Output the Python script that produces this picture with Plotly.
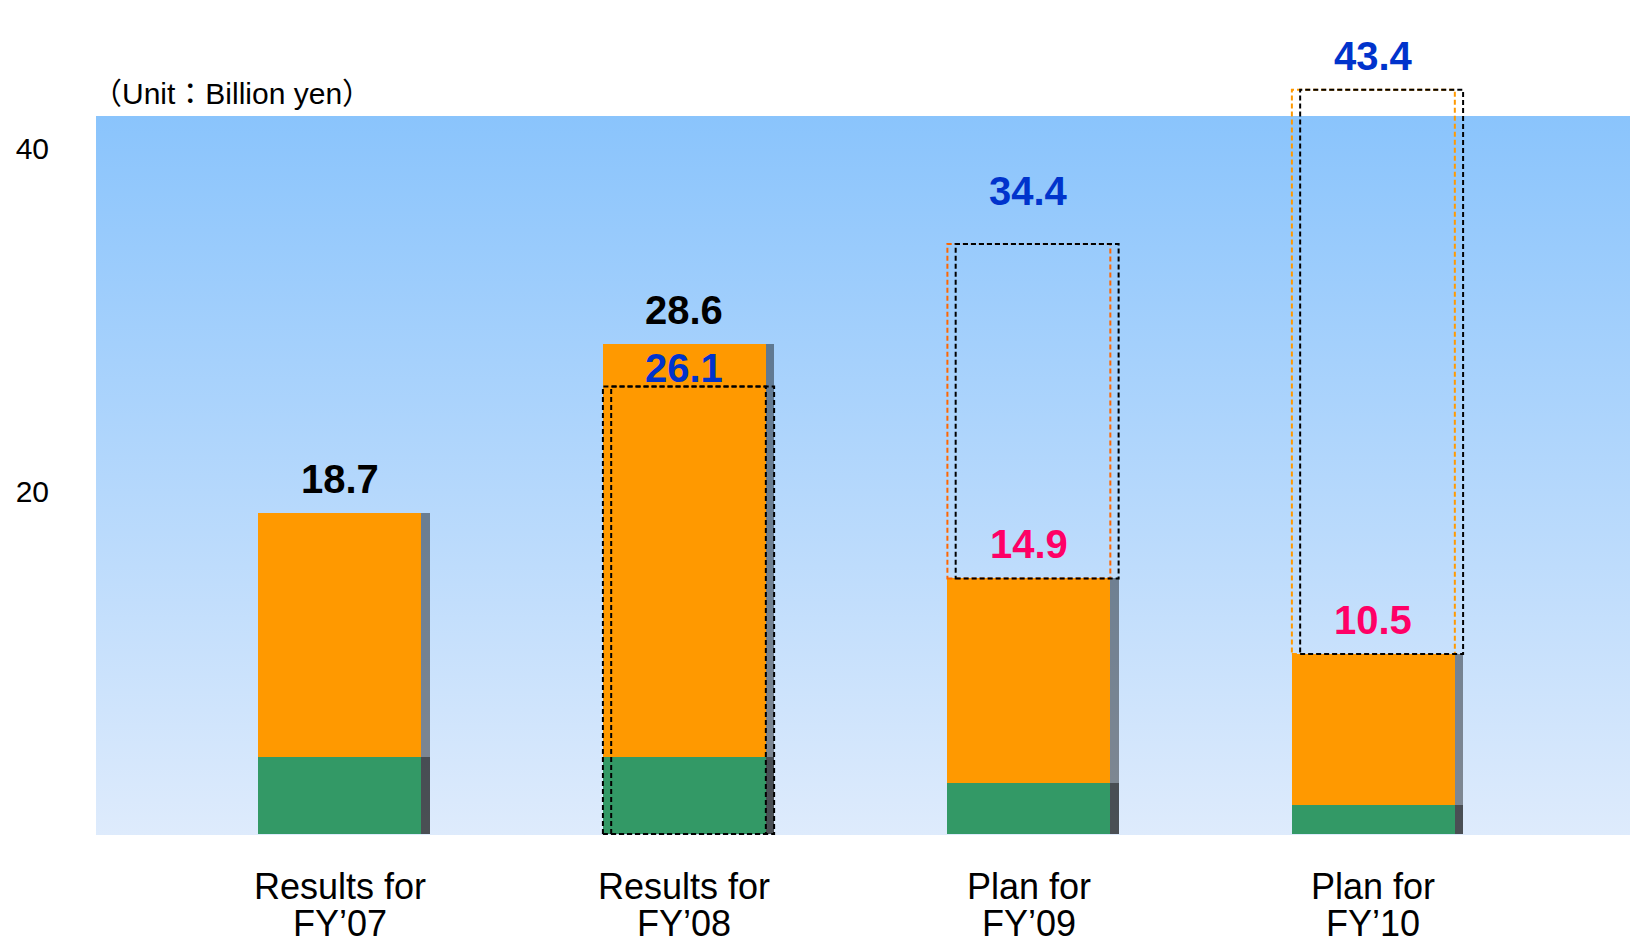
import base64
import plotly.graph_objects as go

# ---------------- data ----------------
categories = ["Results for<br>FY’07", "Results for<br>FY’08", "Plan for<br>FY’09", "Plan for<br>FY’10"]
orange_values = [18.7, 28.6, 14.9, 10.5]
green_values = [4.5, 4.5, 3.0, 1.7]
box_base = [None, 0.0, 14.9, 10.5]
box_top = [None, 26.1, 34.4, 43.4]
y_tick_values = [20, 40]
unit_label = "（Unit：Billion yen）"

# ---------------- styles ----------------
FONT = "Arial, 'Liberation Sans', 'Noto Sans CJK JP', sans-serif"
ORANGE = "#FF9900"
GREEN = "#339966"
SHADOW = "rgba(0,0,0,0.42)"
BLUE = "#0033CC"
label_colors = ["#000000", "#000000", "#FF0066", "#FF0066"]
box_left_colors = [None, "#000000", "#FF6600", "#FF9900"]
top_label_shift = [None, 18, 53, 34]
BAR_W = 0.473
SHIFT = 0.024
Y_RANGE = [-0.058, 48.63]
BG_TOP = 41.87
DASH = "5px,3px"

x = list(range(len(categories)))

fig = go.Figure()
fig.add_bar(x=x, y=orange_values, width=BAR_W, offset=-BAR_W / 2 + SHIFT,
            marker=dict(color=SHADOW, line=dict(width=0)), hoverinfo="skip")
fig.add_bar(x=x, y=orange_values, width=BAR_W, offset=-BAR_W / 2,
            marker=dict(color=ORANGE, line=dict(width=0)))
fig.add_bar(x=x, y=green_values, width=BAR_W, offset=-BAR_W / 2 + SHIFT,
            marker=dict(color=SHADOW, line=dict(width=0)), hoverinfo="skip")
fig.add_bar(x=x, y=green_values, width=BAR_W, offset=-BAR_W / 2,
            marker=dict(color=GREEN, line=dict(width=0)))

# dashed boxes
shapes = []
for i, (b, t) in enumerate(zip(box_base, box_top)):
    if t is None:
        continue
    shapes.append(dict(type="rect", xref="x", yref="y",
                       x0=i - BAR_W / 2, x1=i + BAR_W / 2, y0=b, y1=t,
                       line=dict(color=box_left_colors[i], width=2, dash=DASH),
                       fillcolor="rgba(0,0,0,0)", layer="above"))
    shapes.append(dict(type="rect", xref="x", yref="y",
                       x0=i - BAR_W / 2 + SHIFT, x1=i + BAR_W / 2 + SHIFT, y0=b, y1=t,
                       line=dict(color="#000000", width=2, dash=DASH),
                       fillcolor="rgba(0,0,0,0)", layer="above"))

annotations = []
for i, v in enumerate(orange_values):
    annotations.append(dict(x=i, y=v, xref="x", yref="y", text=f"<b>{v:.1f}</b>",
                            showarrow=False, yanchor="middle", yshift=34,
                            font=dict(family=FONT, size=40, color=label_colors[i])))
for i, t in enumerate(box_top):
    if t is None:
        continue
    annotations.append(dict(x=i, y=t, xref="x", yref="y", text=f"<b>{t:.1f}</b>",
                            showarrow=False, yanchor="middle", yshift=top_label_shift[i],
                            font=dict(family=FONT, size=40, color=BLUE)))
# category labels (two lines each)
for i, c in enumerate(categories):
    lines = c.split("<br>")
    for j, ln in enumerate(lines):
        annotations.append(dict(x=i, y=1 - (886 + 38 * j) / 835, xref="x", yref="paper",
                                text=ln, showarrow=False, yanchor="middle", xanchor="center",
                                font=dict(family=FONT, size=36, color="#000000")))
annotations.append(dict(x=-0.004, y=1 - 93 / 835, xref="paper", yref="paper",
                        text=unit_label, showarrow=False, xanchor="left", yanchor="middle",
                        font=dict(family=FONT, size=30, color="#000000")))

svg = ('<svg xmlns="http://www.w3.org/2000/svg" width="10" height="100" '
       'viewBox="0 0 10 100" preserveAspectRatio="none">'
       '<defs><linearGradient id="g" x1="0" y1="0" x2="0" y2="1">'
       '<stop offset="0" stop-color="#8AC4FC"/>'
       '<stop offset="0.5" stop-color="#B3D7FC"/>'
       '<stop offset="1" stop-color="#DEEBFC"/>'
       '</linearGradient></defs>'
       '<rect width="10" height="100" fill="url(#g)"/></svg>')
src = "data:image/svg+xml;base64," + base64.b64encode(svg.encode()).decode()

fig.update_layout(
    width=1630, height=946,
    margin=dict(l=96, r=0, t=0, b=111, pad=0),
    paper_bgcolor="white", plot_bgcolor="white",
    barmode="overlay", bargap=0, showlegend=False,
    shapes=shapes, annotations=annotations,
    images=[dict(source=src, xref="paper", yref="y", x=0, y=BG_TOP,
                 sizex=1, sizey=BG_TOP - Y_RANGE[0], xanchor="left", yanchor="top",
                 sizing="stretch", layer="below")],
    xaxis=dict(range=[-0.708, 3.745], showticklabels=False, showgrid=False,
               zeroline=False, showline=False, ticks=""),
    yaxis=dict(range=Y_RANGE, tickvals=y_tick_values, showgrid=False, zeroline=False,
               showline=False, ticks="", ticklabelstandoff=46,
               tickfont=dict(family=FONT, size=30, color="#000000")),
    font=dict(family=FONT),
)

fig.write_html("out.html")
